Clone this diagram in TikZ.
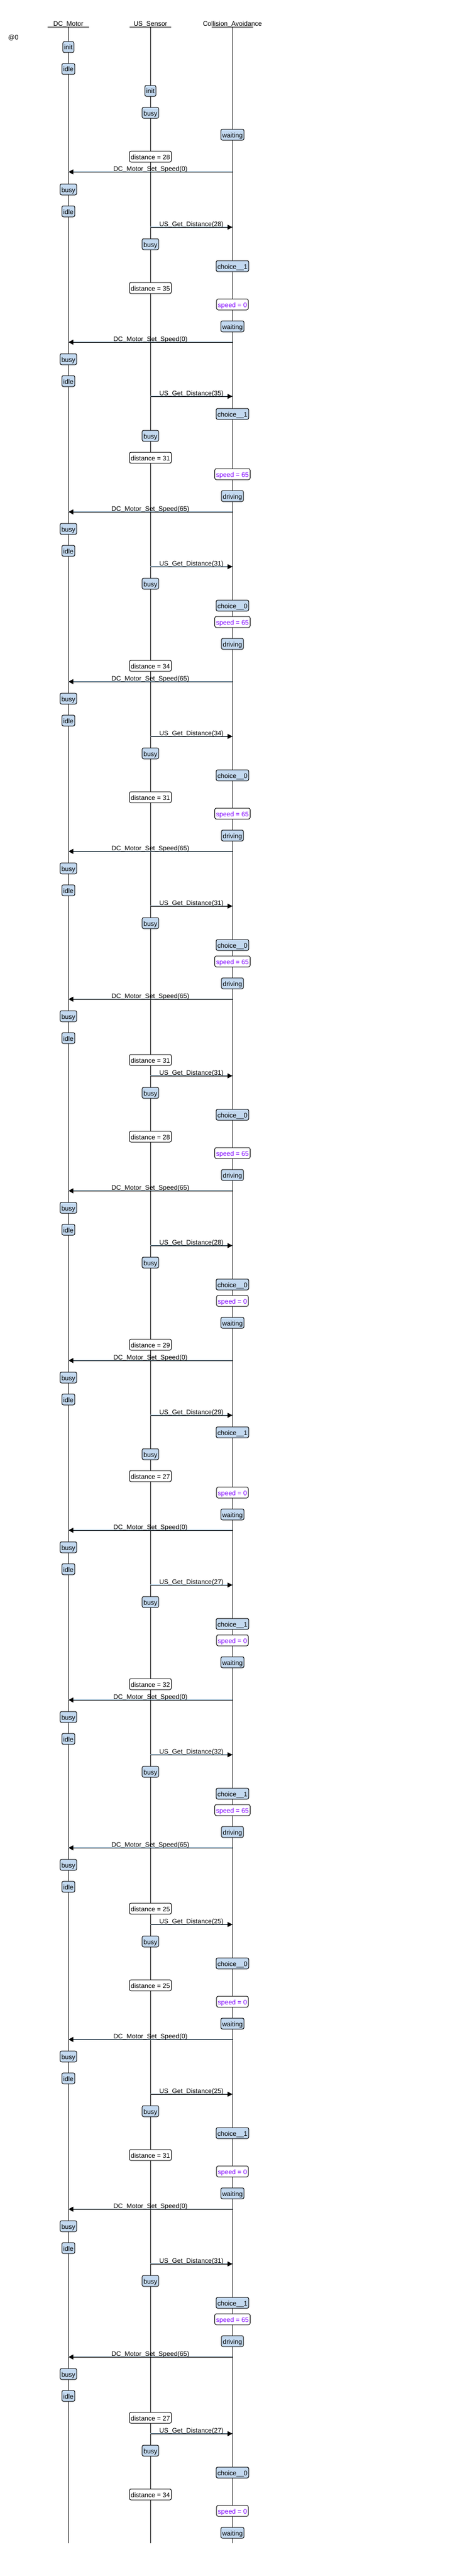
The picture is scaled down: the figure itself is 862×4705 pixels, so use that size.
\documentclass[tikz,border=0pt]{standalone}
\usepackage{fontspec}
\setmainfont{Liberation Sans}
\usetikzlibrary{arrows.meta}

\definecolor{statefill}{RGB}{195,217,240}
\definecolor{assigncolor}{RGB}{127,0,255}
\definecolor{msgshade}{RGB}{140,175,200}

\tikzset{
  stbox/.style={draw=black, rounded corners=3pt, fill=statefill, inner xsep=2.5pt, inner ysep=2pt, text height=13pt, text depth=3pt},
  notebox/.style={stbox, fill=white},
  asgbox/.style={notebox, text=assigncolor},
  msg/.style={draw=black, line width=1pt, -{Triangle[length=9pt,width=9pt]}},
  msgtext/.style={anchor=base, yshift=1.5pt, inner sep=0pt}
}

\begin{document}
\begin{tikzpicture}[x=1pt, y=-1pt, font=\fontsize{12}{14}\selectfont, line width=1pt]
  \useasboundingbox (0,0) rectangle (862,4705);
  \fill[white] (0,0) rectangle (862,4705);

  \node[anchor=base west] (tstart) at (11,73) {@0};
  \foreach \n/\x/\t in {dc/125/DC\_Motor,us/275/US\_Sensor,ca/425/Collision\_Avoidance}
  {
  \node[anchor=base] (\n) at (\x,48) {\t};
  \coordinate (\n top) at (\x,50);
  \coordinate (\n end) at (\x,4645);
  \draw ([xshift=-38pt]\n top) -- ([xshift=38pt]\n top);
  \draw (\n top) -- (\n end);
  }

  \foreach \y/\v in {314/0,625/0,935/65,1245/65,1555/65,1825/65,2175/65,2485/0,2795/0,3105/0,3375/65,3725/0,4035/0,4305/65}
  {
  \coordinate (setfrom\y) at (425,\y);
  \coordinate (setto\y) at (125,\y);
  \draw[msgshade] ([yshift=1pt]setfrom\y) -- ([yshift=1pt]setto\y);
  \draw[msg] (setfrom\y) -- node[msgtext] {DC\_Motor\_Set\_Speed(\v)} (setto\y);
  }
  \foreach \y/\v in {415/28,724/35,1035/31,1345/34,1655/31,1965/31,2275/28,2585/29,2895/27,3205/32,3515/25,3825/25,4135/31,4445/27}
  {
  \coordinate (getfrom\y) at (275,\y);
  \coordinate (getto\y) at (425,\y);
  \draw[msgshade] ([yshift=1pt]getfrom\y) -- ([yshift=1pt]getto\y);
  \draw[msg] (getfrom\y) -- node[msgtext] {US\_Get\_Distance(\v)} (getto\y);
  }

  \foreach \y/\s in {86/init,126/idle,346/busy,386/idle,656/busy,696/idle,966/busy,1006/idle,1276/busy,1316/idle,1586/busy,1626/idle,1856/busy,1896/idle,2206/busy,2246/idle,2516/busy,2556/idle,2826/busy,2866/idle,3136/busy,3176/idle,3406/busy,3446/idle,3756/busy,3796/idle,4066/busy,4106/idle,4336/busy,4376/idle}
  {
  \node[stbox] (dc\y) at (125,\y) {\s};
  }
  \foreach \y/\s in {166/init,206/busy,446/busy,796/busy,1066/busy,1376/busy,1686/busy,1996/busy,2306/busy,2656/busy,2926/busy,3236/busy,3546/busy,3856/busy,4166/busy,4476/busy}
  {
  \node[stbox] (us\y) at (275,\y) {\s};
  }
  \foreach \y/\s in {246/waiting,486/choice\_\_1,596/waiting,756/choice\_\_1,906/driving,1106/choice\_\_0,1176/driving,1416/choice\_\_0,1526/driving,1726/choice\_\_0,1796/driving,2036/choice\_\_0,2146/driving,2346/choice\_\_0,2416/waiting,2616/choice\_\_1,2766/waiting,2966/choice\_\_1,3036/waiting,3276/choice\_\_1,3346/driving,3586/choice\_\_0,3696/waiting,3896/choice\_\_1,4006/waiting,4206/choice\_\_1,4276/driving,4516/choice\_\_0,4626/waiting}
  {
  \node[stbox] (ca\y) at (425,\y) {\s};
  }

  \foreach \y/\d in {286/28,526/35,836/31,1216/34,1456/31,1936/31,2076/28,2456/29,2696/27,3076/32,3486/25,3626/25,3936/31,4416/27,4556/34}
  {
  \node[notebox] (dist\y) at (275,\y) {distance = \d};
  }
  \foreach \y/\v in {556/0,866/65,1136/65,1486/65,1756/65,2106/65,2376/0,2726/0,2996/0,3306/65,3656/0,3966/0,4236/65,4586/0}
  {
  \node[asgbox] (spd\y) at (425,\y) {speed = \v};
  }
\end{tikzpicture}
\end{document}
